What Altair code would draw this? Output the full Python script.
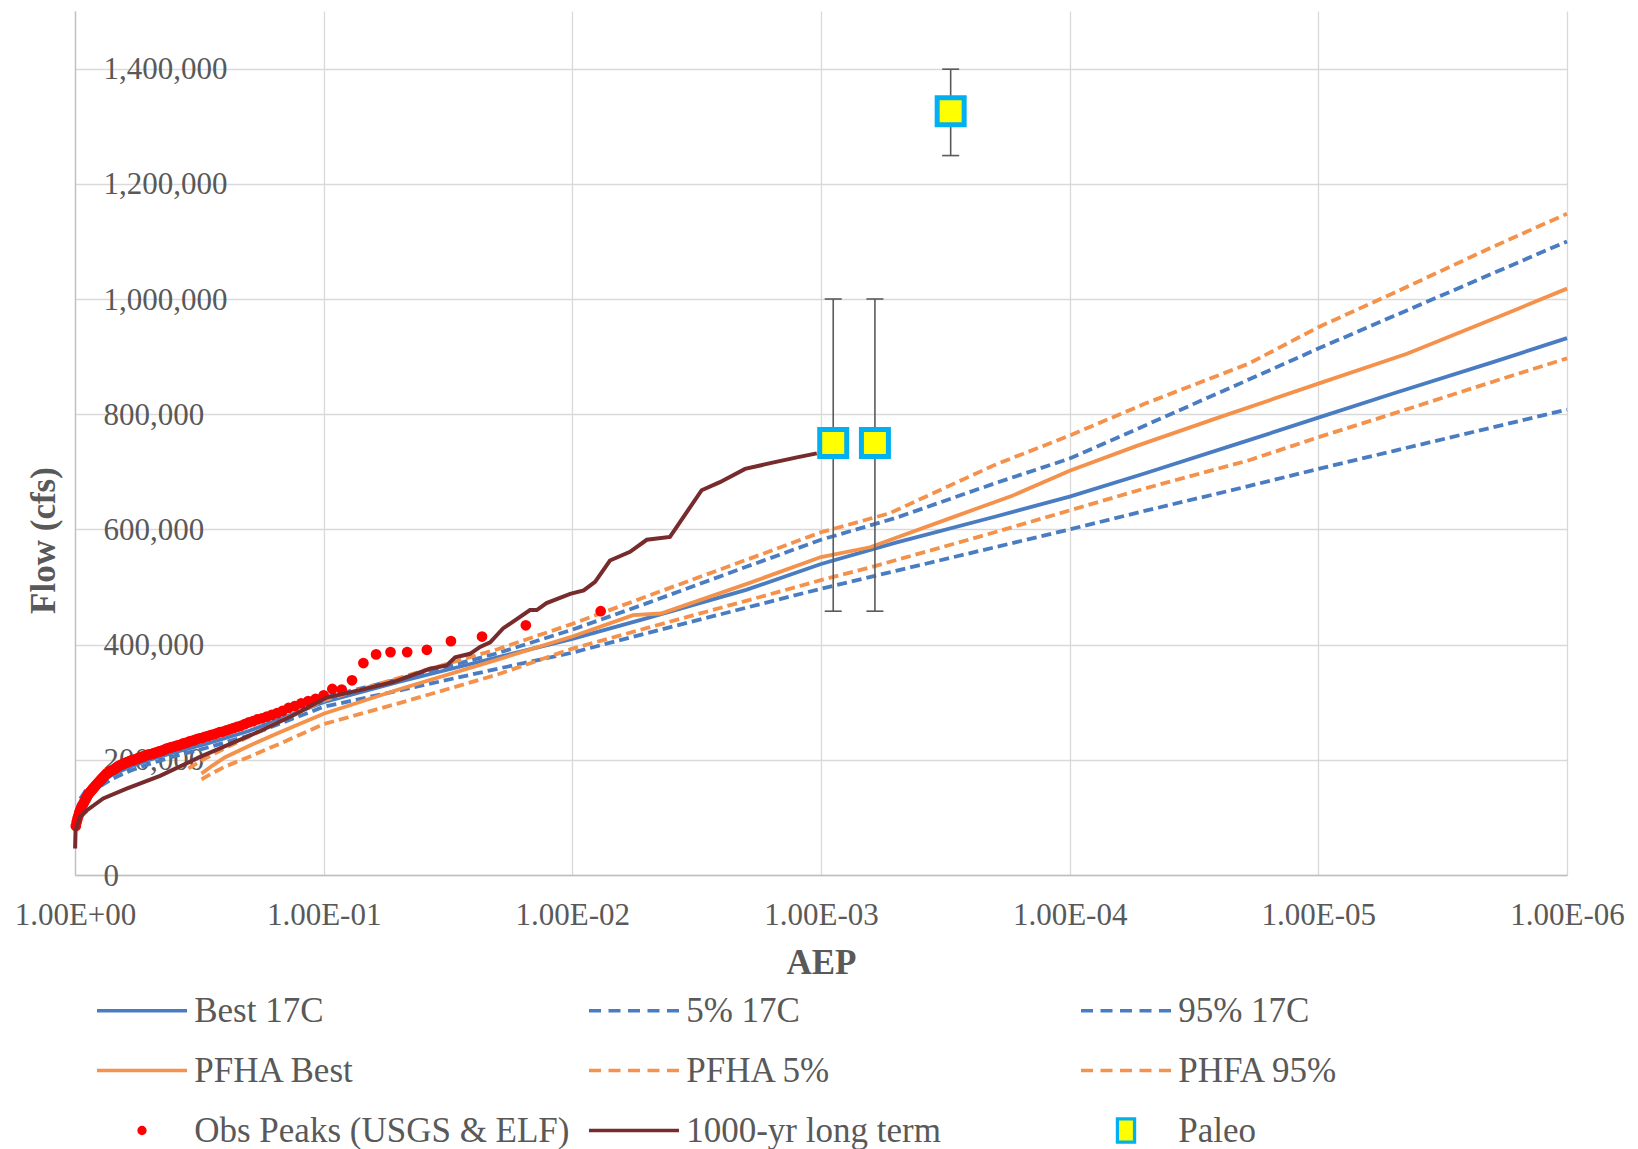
import altair as alt
import pandas as pd

# ---------------- data ----------------
series_names = ["Best 17C", "5% 17C", "95% 17C", "PFHA Best", "PFHA 5%", "PHFA 95%",
                "Obs Peaks (USGS & ELF)", "1000-yr long term", "Paleo"]

b17_aep = [0.99, 0.95, 0.9, 0.8, 0.7, 0.6, 0.5, 0.4, 0.3, 0.2, 0.1, 0.05, 0.02, 0.01,
           0.005, 0.002, 0.001, 5e-4, 2e-4, 1e-4, 5e-5, 2e-5, 1e-5, 5e-6, 2e-6, 1e-6]
best17_flow = [100000, 125000, 140000, 160000, 175000, 188000, 200000, 213000, 227000, 250000,
               300000, 335000, 378000, 410000, 446000, 495000, 540000, 577000, 622000, 657000,
               697000, 752000, 794000, 836000, 890000, 932000]
p5_17_flow = [92000, 117000, 132000, 153000, 168000, 181000, 193000, 206000, 220000, 242000,
              292000, 320000, 358000, 386000, 420000, 464000, 497000, 528000, 569000, 600000,
              632000, 673000, 705000, 736000, 777000, 808000]
p95_17_flow = [108000, 133000, 148000, 167000, 182000, 195000, 207000, 221000, 236000, 260000,
               308000, 340000, 385000, 426000, 472000, 535000, 582000, 620000, 680000, 723000,
               780000, 856000, 914000, 970000, 1044000, 1100000]

pfha_best_aep = [0.31, 0.28, 0.25, 0.2, 0.15, 0.1, 0.05, 0.02, 0.01, 0.0057, 0.0044, 0.002,
                 0.001, 6.35e-4, 3e-4, 1.69e-4, 1e-4, 5.37e-5, 2.49e-5, 1e-5, 4.4e-6, 1.75e-6, 1e-6]
pfha_best_flow = [176000, 190000, 204000, 224000, 248000, 280000, 322000, 374000, 414000, 451000,
                  454000, 505000, 552000, 569000, 620000, 659000, 702000, 745000, 795000, 853000,
                  905000, 975000, 1018000]

pfha5_aep = [0.31, 0.28, 0.25, 0.2, 0.15, 0.1, 0.05, 0.02, 0.01, 0.005, 0.002, 0.001, 6.35e-4,
             2e-4, 1e-4, 5e-5, 1.9e-5, 1e-5, 5e-6, 2e-6, 1e-6]
pfha5_flow = [166000, 177000, 188000, 205000, 228000, 262000, 298000, 348000, 393000, 429000,
              476000, 512000, 534000, 595000, 633000, 671000, 720000, 760000, 801000, 856000, 897000]

phfa95_aep = [0.35, 0.3, 0.25, 0.2, 0.15, 0.1, 0.05, 0.02, 0.01, 0.005, 0.002, 0.001, 5.3e-4,
              2e-4, 1e-4, 5e-5, 1.9e-5, 1e-5, 5e-6, 2e-6, 1e-6]
phfa95_flow = [185000, 202000, 220000, 240000, 267000, 303000, 342000, 392000, 436000, 484000,
               547000, 595000, 628000, 712000, 763000, 818000, 888000, 951000, 1010000, 1090000, 1148000]

obs_aep = [0.007692, 0.01538, 0.02308, 0.03077, 0.03846, 0.04615, 0.05385, 0.06154, 0.06923, 0.07692,
           0.08462, 0.09231, 0.1, 0.1077, 0.1154, 0.1231, 0.1308, 0.1385, 0.1462, 0.1538,
           0.1615, 0.1692, 0.1769, 0.1846, 0.1923, 0.2, 0.2077, 0.2154, 0.2231, 0.2308,
           0.2385, 0.2462, 0.2538, 0.2615, 0.2692, 0.2769, 0.2846, 0.2923, 0.3, 0.3077,
           0.3154, 0.3231, 0.3308, 0.3385, 0.3462, 0.3538, 0.3615, 0.3692, 0.3769, 0.3846,
           0.3923, 0.4, 0.4077, 0.4154, 0.4231, 0.4308, 0.4385, 0.4462, 0.4538, 0.4615,
           0.4692, 0.4769, 0.4846, 0.4923, 0.5, 0.5077, 0.5154, 0.5231, 0.5308, 0.5385,
           0.5462, 0.5538, 0.5615, 0.5692, 0.5769, 0.5846, 0.5923, 0.6, 0.6077, 0.6154,
           0.6231, 0.6308, 0.6385, 0.6462, 0.6538, 0.6615, 0.6692, 0.6769, 0.6846, 0.6923,
           0.7, 0.7077, 0.7154, 0.7231, 0.7308, 0.7385, 0.7462, 0.7538, 0.7615, 0.7692,
           0.7769, 0.7846, 0.7923, 0.8, 0.8077, 0.8154, 0.8231, 0.8308, 0.8385, 0.8462,
           0.8538, 0.8615, 0.8692, 0.8769, 0.8846, 0.8923, 0.9, 0.9077, 0.9154, 0.9231,
           0.9308, 0.9385, 0.9462, 0.9538, 0.9615, 0.9692, 0.9769, 0.9846, 0.9923]
obs_flow = [458000, 433500, 414000, 406000, 391000, 387000, 387000, 383000, 368000, 338000,
            322000, 323000, 312000, 306000, 302000, 298000, 293000, 290000, 285000, 281000,
            278000, 275000, 272000, 270000, 267000, 265000, 262000, 259000, 257000, 255000,
            253000, 251000, 249000, 248000, 246000, 244000, 243000, 241000, 240000, 238000,
            237000, 236000, 234000, 233000, 232000, 230000, 229000, 228000, 226000, 225000,
            224000, 223000, 222000, 221000, 220000, 219000, 217000, 216000, 215000, 214000,
            213000, 212000, 211000, 210000, 209500, 209000, 208000, 207000, 206000, 205000,
            204000, 203000, 202000, 201000, 200000, 199500, 199000, 198000, 197000, 196000,
            195000, 194000, 193000, 192000, 191000, 190000, 189000, 187000, 186000, 184000,
            183000, 182000, 181000, 180000, 179000, 177000, 176000, 174000, 172000, 170000,
            168000, 166000, 164000, 162000, 160000, 158000, 156000, 154000, 152000, 150000,
            148000, 146000, 144000, 142000, 140000, 137000, 134000, 131000, 128000, 125000,
            122000, 119000, 115000, 112000, 108000, 103000, 98000, 92000, 85000]

lt_aep = [0.999, 0.995, 0.955, 0.897, 0.77, 0.62, 0.455, 0.314, 0.18, 0.133, 0.0973, 0.0714,
          0.0526, 0.0374, 0.032, 0.0296, 0.0258, 0.0235, 0.0214, 0.019, 0.0148, 0.0139, 0.0127,
          0.0102, 0.009, 0.0081, 0.00706, 0.00586, 0.00502, 0.00405, 0.00302, 0.00255, 0.00202,
          0.0016, 0.00125, 0.00104]
lt_flow = [46000, 77000, 100000, 112000, 133000, 150000, 172000, 205000, 250000, 277000, 308000,
           321000, 335000, 358000, 364000, 378000, 384000, 396000, 404000, 428000, 460000, 460000,
           472000, 488000, 494000, 509000, 546000, 561000, 582000, 587000, 668000, 682000, 705000,
           715000, 725000, 732000]

paleo_aep = [8.93e-4, 6.07e-4, 3.01e-4]
paleo_flow = [750000, 750000, 1326000]
paleo_low = [458000, 458000, 1249000]
paleo_high = [1000000, 1000000, 1399000]

x_ticks = [1, 0.1, 0.01, 0.001, 0.0001, 0.00001, 0.000001]
y_ticks = [0, 200000, 400000, 600000, 800000, 1000000, 1200000, 1400000]

# ---------------- styles ----------------
BLUE = "#4A7CC1"
ORANGE = "#F4914B"
MAROON = "#772B2C"
RED = "#FF0000"
CYAN = "#00B0F0"
YELLOW = "#FFFF00"
GRID = "#D9D9D9"
TXT = "#595959"
FONT = "Liberation Serif"
DASH = [10, 5]
LW = 3.8

xscale = alt.Scale(type="log", domain=[1e-6, 1], reverse=True, nice=False)
yscale = alt.Scale(domain=[0, 1500000], nice=False, zero=True)

xaxis = alt.Axis(
    values=x_ticks,
    labelExpr="'1.00E' + (datum.value >= 1 ? '+' : '-') + '0' + abs(round(log(datum.value) / LN10))",
    title="AEP", grid=True, gridColor=GRID, gridWidth=1.3,
    ticks=False, tickSize=0, domainColor="#BFBFBF", domainWidth=1.3,
    labelFont=FONT, labelFontSize=31, labelColor=TXT, labelPadding=25,
    labelBaseline="top", labelFlush=False, labelOverlap=False,
    titleFont=FONT, titleFontSize=35, titleFontWeight="bold", titleColor=TXT,
    titleY=98, titleBaseline="alphabetic",
)
yaxis = alt.Axis(
    values=y_ticks, format=",.0f", title="Flow (cfs)",
    grid=True, gridColor=GRID, gridWidth=1.3,
    ticks=False, tickSize=0, domainColor="#BFBFBF", domainWidth=1.3,
    labelFont=FONT, labelFontSize=31, labelColor=TXT, labelAlign="left",
    labelBaseline="middle", labelPadding=-28, labelOverlap=False, labelOffset=1,
    titleFont=FONT, titleFontSize=35, titleFontWeight="bold", titleColor=TXT,
    titleX=-32, titleY=529, titleAngle=270, titleAlign="center", titleBaseline="middle",
)

X = alt.X("aep:Q", scale=xscale, axis=xaxis)
Y = alt.Y("flow:Q", scale=yscale, axis=yaxis)


def line_layer(aep, flow, color, dashed, width=LW):
    df = pd.DataFrame({"aep": aep, "flow": flow})
    kw = dict(color=color, strokeWidth=width)
    if dashed:
        kw["strokeDash"] = DASH
    return alt.Chart(df).mark_line(**kw).encode(x=X, y=Y)


layers = [
    line_layer(b17_aep, best17_flow, BLUE, False),
    line_layer(b17_aep, p5_17_flow, BLUE, True),
    line_layer(b17_aep, p95_17_flow, BLUE, True),
    line_layer(pfha_best_aep, pfha_best_flow, ORANGE, False),
    line_layer(pfha5_aep, pfha5_flow, ORANGE, True),
    line_layer(phfa95_aep, phfa95_flow, ORANGE, True),
]

obs_df = pd.DataFrame({"aep": obs_aep, "flow": obs_flow})
layers.append(alt.Chart(obs_df).mark_circle(size=115, color=RED, opacity=1).encode(x=X, y=Y))

layers.append(line_layer(lt_aep, lt_flow, MAROON, False, 4))

paleo_df = pd.DataFrame({"aep": paleo_aep, "flow": paleo_flow, "low": paleo_low, "high": paleo_high})
layers.append(
    alt.Chart(paleo_df).mark_rule(color="#5A5A5A", strokeWidth=1.6).encode(
        x=X, y=alt.Y("low:Q", scale=yscale, axis=yaxis), y2="high:Q")
)
caps_df = pd.DataFrame({"aep": paleo_aep * 2, "flow": paleo_low + paleo_high})
layers.append(
    alt.Chart(caps_df).mark_tick(orient="horizontal", size=17, thickness=1.6,
                                 color="#5A5A5A", opacity=1).encode(x=X, y=Y)
)
layers.append(
    alt.Chart(paleo_df).mark_point(shape="square", size=729, filled=True, fill=YELLOW,
                                   stroke=CYAN, strokeWidth=5, opacity=1).encode(x=X, y=Y)
)

# legend (drawn by the library from the scales below)
LINE = "M-3,0H3"
DASHED = "M-3,0H-2.2M-1.7,0H-0.9M-0.4,0H0.4M0.9,0H1.7M2.2,0H3"
DOT = "M0.2,0A0.2,0.2,0,1,1,-0.2,0A0.2,0.2,0,1,1,0.2,0Z"
RECT = "M-0.57,-0.77H0.57V0.77H-0.57Z"

leg_shapes = [LINE, DASHED, DASHED, LINE, DASHED, DASHED, DOT, LINE, RECT]
leg_strokes = [BLUE, BLUE, BLUE, ORANGE, ORANGE, ORANGE, RED, MAROON, CYAN]
leg_fills = ["transparent"] * 6 + [RED, "transparent", YELLOW]

legend = alt.Legend(
    title=None, orient="none", legendX=49.5, legendY=982, columns=3, direction="horizontal",
    gridAlign="all",
    symbolSize=900, symbolStrokeWidth=3.3, symbolOpacity=1, symbolFillColor="transparent",
    labelFont=FONT, labelFontSize=35, labelColor=TXT, labelLimit=800, labelOffset=34.7,
    columnPadding=12, rowPadding=23, padding=0,
)
leg_df = pd.DataFrame({"series": series_names, "aep": [None] * 9, "flow": [None] * 9})
layers.append(
    alt.Chart(leg_df).mark_point(opacity=1).encode(
        x=X, y=Y,
        stroke=alt.Stroke("series:N", scale=alt.Scale(domain=series_names, range=leg_strokes), legend=legend),
        fill=alt.Fill("series:N", scale=alt.Scale(domain=series_names, range=leg_fills), legend=legend),
        shape=alt.Shape("series:N", scale=alt.Scale(domain=series_names, range=leg_shapes), legend=legend),
    )
)

chart = alt.layer(*layers).properties(
    width=1492, height=864,
    autosize=alt.AutoSizeParams(type="none"),
    padding={"left": 67, "top": 3, "right": 63, "bottom": 300},
    background="white",
).configure_view(
    strokeWidth=0
).configure_legend(
    labelFont=FONT, labelFontSize=35, labelColor=TXT
).configure_axis(
    labelFont=FONT, titleFont=FONT
).configure_text(font=FONT)

chart.save("out.html", embed_options={"renderer": "svg", "actions": False})
